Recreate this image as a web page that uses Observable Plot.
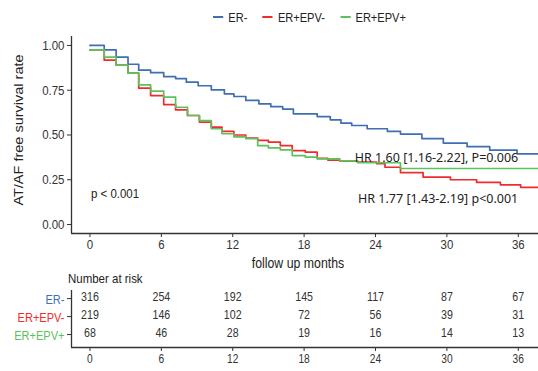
<!DOCTYPE html>
<html><head><meta charset="utf-8">
<script src="https://cdn.jsdelivr.net/npm/d3@7"></script>
<script src="https://cdn.jsdelivr.net/npm/@observablehq/plot@0.6"></script>
<style>
body{margin:0;background:#fff;font-family:"Liberation Sans",Arial,sans-serif;}
#wrap{position:relative;width:538px;height:371px;overflow:hidden;}
.abs{position:absolute;white-space:nowrap;}
.leg{display:inline-flex;align-items:center;margin-right:18px;font-size:13px;color:#222;}
.leg span.sw{display:inline-block;width:12px;height:2px;margin-right:6px;}
svg{position:absolute;left:0;overflow:visible;}
</style></head><body><div id="wrap"></div>
<script>
// ---- data ----
const groups = ["ER-", "ER+EPV-", "ER+EPV+"];
const colors = ["#3f6fb2", "#ee2c2c", "#5cc25c"];

const erNegTime = [0, 1.2, 2.2, 3.2, 4.1, 5.1, 6.2, 7.2, 8.1, 9.1, 10.2, 11.3, 12.1, 13.1, 14.2, 15.2, 16.2, 17.1, 19.1, 20.2, 21.1, 22.0, 23.3, 25.0, 26.1, 27.9, 29.7, 31.7, 33.6, 35.9, 37.8];
const erNegSurv = [1.00, 0.975, 0.935, 0.895, 0.862, 0.848, 0.826, 0.815, 0.795, 0.775, 0.752, 0.73, 0.715, 0.693, 0.674, 0.658, 0.645, 0.618, 0.603, 0.585, 0.566, 0.553, 0.535, 0.52, 0.505, 0.48, 0.455, 0.435, 0.415, 0.395, 0.395];

const erEpvNegTime = [0, 1.2, 2.2, 3.2, 4.1, 5.1, 6.2, 7.2, 8.2, 9.2, 10.2, 11.1, 12.1, 13.1, 14.1, 15.0, 16.0, 17.0, 18.1, 19.1, 20.0, 21.0, 22.5, 24.1, 24.8, 26.1, 28.0, 30.3, 32.5, 34.5, 36.2, 37.8];
const erEpvNegSurv = [0.975, 0.918, 0.89, 0.845, 0.762, 0.72, 0.67, 0.64, 0.609, 0.572, 0.544, 0.52, 0.50, 0.482, 0.47, 0.46, 0.441, 0.413, 0.404, 0.37, 0.36, 0.354, 0.348, 0.34, 0.32, 0.29, 0.265, 0.25, 0.236, 0.222, 0.208, 0.208];

const erEpvPosTime = [0, 1.2, 2.2, 3.2, 4.1, 5.1, 6.2, 7.2, 8.2, 9.2, 10.2, 11.1, 12.1, 13.1, 14.1, 15.0, 16.0, 17.0, 18.1, 19.1, 21.0, 22.5, 26.1, 37.8];
const erEpvPosSurv = [0.975, 0.935, 0.89, 0.845, 0.78, 0.745, 0.711, 0.655, 0.609, 0.58, 0.535, 0.507, 0.49, 0.479, 0.441, 0.428, 0.417, 0.385, 0.376, 0.367, 0.355, 0.345, 0.313, 0.313];

const riskTimes = [0, 6, 12, 18, 24, 30, 36];
const riskErNeg = [316, 254, 192, 145, 117, 87, 67];
const riskErEpvNeg = [219, 146, 102, 72, 56, 39, 31];
const riskErEpvPos = [68, 46, 28, 19, 16, 14, 13];

const xTicks = [0, 6, 12, 18, 24, 30, 36];
const yTicks = [0, 0.25, 0.5, 0.75, 1];
const annoText = ["p < 0.001", "HR 1.60 [1.16-2.22], P=0.006", "HR 1.77 [1.43-2.19] p<0.001"];
const annoX = [0, 36, 36];
const annoY = [0.173, 0.374, 0.145];

const xDomain = [-1.55, 37.7];
const yDomain = [-0.05, 1.05];

// ---- build ----
const FONT = '"Liberation Sans", Arial, sans-serif';
const SQ = 0.85; // horizontal squeeze of the original typography
const wrap = document.getElementById("wrap");
const series = [[erNegTime, erNegSurv], [erEpvNegTime, erEpvNegSurv], [erEpvPosTime, erEpvPosSurv]]
  .map(([t, s], gi) => t.map((tt, i) => ({t: tt, s: s[i], g: groups[gi]})));

function squash(svg, k) {
  svg.querySelectorAll("text").forEach(t => {
    if (t.closest('[font-family*="Noto"]')) return;
    const x = parseFloat(t.getAttribute("x") || 0) || 0;
    const tr = t.getAttribute("transform") || "";
    t.setAttribute("transform", `${tr} translate(${x},0) scale(${k},1) translate(${-x},0)`);
  });
}

// legend
const leg = document.createElement("div");
leg.className = "abs";
leg.style.cssText += `left:213px;top:4px;transform:scaleX(${SQ});transform-origin:0 50%;`;
groups.forEach((g, i) => {
  const it = document.createElement("span");
  it.className = "leg";
  it.innerHTML = `<span class="sw" style="background:${colors[i]}"></span>${g}`;
  leg.appendChild(it);
});
wrap.appendChild(leg);

const axisColor = "#333";
const main = Plot.plot({
  width: 538, height: 226,
  marginLeft: 71, marginRight: 0, marginTop: 8, marginBottom: 21,
  style: {fontFamily: FONT, fontSize: "13.5px", color: "#333", background: "transparent", overflow: "visible"},
  x: {domain: xDomain},
  y: {domain: yDomain},
  marks: [
    Plot.axisX({ticks: xTicks, tickSize: 4, tickPadding: 2, label: null, fontSize: 13.5}),
    Plot.axisY({ticks: yTicks, tickSize: 4, tickPadding: 3, tickFormat: d3.format(".2f"), label: null, fontSize: 13.5}),
    ...series.map((d, i) => Plot.line(d, {x: "t", y: "s", curve: "step-after", stroke: colors[i], strokeWidth: 1.7})),
    Plot.ruleX([xDomain[0]], {stroke: axisColor, strokeWidth: 1.3}),
    Plot.ruleY([yDomain[0]], {stroke: axisColor, strokeWidth: 1.3}),
    Plot.text([annoText[0]], {x: annoX[0], y: annoY[0], text: d => d, textAnchor: "start", dx: 1, fontSize: 13.5, fill: "#222"}),
    Plot.text(annoText.slice(1), {x: (d, i) => annoX[i + 1], y: (d, i) => annoY[i + 1], text: d => d, textAnchor: "end", fontSize: 12.5, fill: "#222", fontFamily: '"Noto Sans", "Open Sans", sans-serif'})
  ]
});
squash(main, SQ);
main.style.top = "28px";
wrap.appendChild(main);

// y label
const yl = document.createElement("div");
yl.className = "abs";
yl.textContent = "AT/AF free survival rate";
yl.style.cssText += `left:19px;top:130px;font-size:14.5px;color:#222;transform:translate(-50%,-50%) rotate(-90deg) scaleY(${SQ});`;
wrap.appendChild(yl);

// x label
const xl = document.createElement("div");
xl.className = "abs";
xl.textContent = "follow up months";
xl.style.cssText += `left:298px;top:263px;font-size:14.5px;color:#222;transform:translate(-50%,-50%) scaleX(${SQ});`;
wrap.appendChild(xl);

// Number at risk
const nr = document.createElement("div");
nr.className = "abs";
nr.textContent = "Number at risk";
nr.style.cssText += `left:68px;top:278px;font-size:13.5px;color:#222;transform:translateY(-50%) scaleX(${SQ});transform-origin:0 50%;`;
wrap.appendChild(nr);

// risk table
const riskRows = [riskErNeg, riskErEpvNeg, riskErEpvPos];
const riskData = riskRows.flatMap((row, gi) => row.map((n, i) => ({t: riskTimes[i], n, row: gi})));
const riskYDomain = [-0.45, 2.72];
const risk = Plot.plot({
  width: 538, height: 103,
  marginLeft: 71, marginRight: 0, marginTop: 22, marginBottom: 24,
  style: {fontFamily: FONT, fontSize: "12px", color: "#333", background: "transparent", overflow: "visible"},
  x: {domain: xDomain},
  y: {domain: riskYDomain, reverse: true},
  marks: [
    Plot.axisX({ticks: xTicks, tickSize: 4, tickPadding: 3, label: null, fontSize: 12}),
    Plot.axisY({ticks: [0, 1, 2], tickSize: 4, tickFormat: () => "", label: null}),
    Plot.ruleX([xDomain[0]], {stroke: axisColor, strokeWidth: 1.3}),
    Plot.ruleY([riskYDomain[1]], {stroke: axisColor, strokeWidth: 1.3}),
    Plot.text(riskData, {x: "t", y: "row", text: d => String(d.n), fill: "#333", fontSize: 12.5, dy: -2}),
    ...groups.map((g, i) => Plot.text([g], {x: () => xDomain[0], y: () => i, text: d => d, textAnchor: "end", dx: -7, dy: 1, fill: colors[i], fontSize: 13}))
  ]
});
squash(risk, SQ);
risk.style.top = "268px";
wrap.appendChild(risk);
</script></body></html>
